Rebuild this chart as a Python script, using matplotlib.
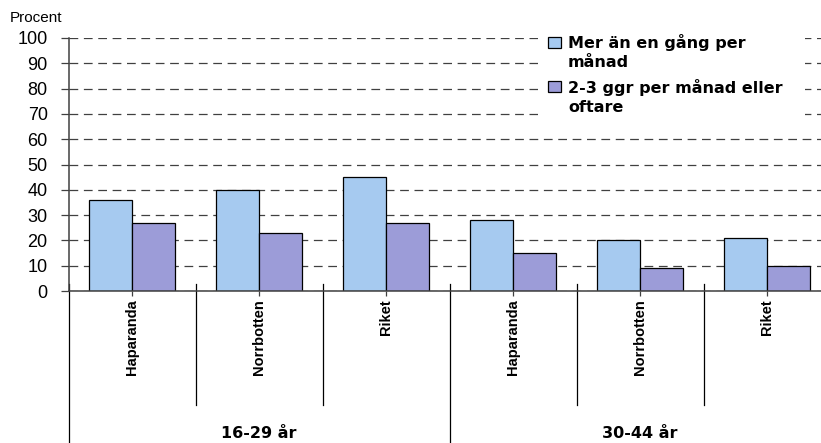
import matplotlib
matplotlib.use("Agg")
import matplotlib.pyplot as plt
from matplotlib.patches import Rectangle
from matplotlib import font_manager

# ---- data ----
categories = ["Haparanda", "Norrbotten", "Riket", "Haparanda", "Norrbotten", "Riket"]
groups = ["16-29 år", "30-44 år"]
series_names = ["Mer än en gång per\nmånad", "2-3 ggr per månad eller\noftare"]
series1 = [36, 40, 45, 28, 20, 21]
series2 = [27, 23, 27, 15, 9, 10]
yticks = [0, 10, 20, 30, 40, 50, 60, 70, 80, 90, 100]

W, H = 821, 443
def fx(x): return x / W
def fy(y): return 1 - y / H

installed = {f.name for f in font_manager.fontManager.ttflist}
if "Liberation Sans Narrow" in installed:
    cat_family, cat_size = "Liberation Sans Narrow", 12.5
else:
    cat_family, cat_size = "Liberation Sans", 10.5

fig = plt.figure(figsize=(W / 100, H / 100), dpi=100)
left_px, right_px, top_px, base_px = 68.5, 821, 38, 291
cat_px = 127.0
ax = fig.add_axes([fx(left_px), fy(base_px), (right_px - left_px) / W, (base_px - top_px) / H])

blue = "#A6CAF0"
purple = "#9C9CD8"
xs = list(range(len(categories)))
bw = 0.335
ax.bar([x - bw / 2 for x in xs], series1, width=bw, color=blue, edgecolor="black", linewidth=0.9, zorder=2)
ax.bar([x + bw / 2 for x in xs], series2, width=bw, color=purple, edgecolor="black", linewidth=0.9, zorder=2)

ax.set_xlim(-0.5, -0.5 + (right_px - left_px) / cat_px)
ax.set_ylim(0, 100)
ax.set_yticks(yticks)
ax.set_yticklabels([str(v) for v in yticks], fontsize=13, family="Liberation Sans")
ax.tick_params(axis="y", length=6, width=0.9, color="#404040", pad=9, direction="out")

ax.set_xticks(xs)
ax.set_xticklabels(categories, rotation=90, fontsize=cat_size, fontweight="bold", family=cat_family)
ax.tick_params(axis="x", length=3.6, width=0.9, color="#404040", pad=2.5, direction="out")

for s in ["top", "right"]:
    ax.spines[s].set_visible(False)
for s in ["left", "bottom"]:
    ax.spines[s].set_color("#404040")
    ax.spines[s].set_linewidth(1.1)

ax.yaxis.grid(True, color="#404040", linewidth=0.9, linestyle=(0, (7, 4.5)), zorder=0)
ax.set_axisbelow(True)

# separator lines below the axis
trans = ax.get_xaxis_transform()
y_top = (base_px - 284) / (base_px - top_px)
y_cat = -(405 - base_px) / (base_px - top_px)
y_grp = -(450 - base_px) / (base_px - top_px)
for b in [0.5, 1.5, 3.5, 4.5]:
    ax.plot([b, b], [y_top, y_cat], color="black", linewidth=0.9, transform=trans, clip_on=False)
for b in [-0.5, 2.5]:
    ax.plot([b, b], [y_top, y_grp], color="black", linewidth=0.9, transform=trans, clip_on=False)

y_glabel = -(433 - base_px) / (base_px - top_px)
for gi, g in enumerate(groups):
    ax.text(1.0 + 3 * gi, y_glabel, g, transform=trans, ha="center", va="center",
            fontsize=11.5, fontweight="bold", family="DejaVu Sans")

# "Procent" label
fig.text(fx(10), fy(18), "Procent", fontsize=11, family="Liberation Sans", va="center", ha="left")

# legend (manual, white background hides grid)
ax.add_patch(Rectangle((fx(538), fy(125)), (805 - 538) / W, (125 - 28) / H,
                       transform=fig.transFigure, facecolor="white", edgecolor="none",
                       zorder=3, clip_on=False))
for (sq_top, text_base, col, name) in [(37, 67, blue, series_names[0]), (81, 112, purple, series_names[1])]:
    ax.add_patch(Rectangle((fx(548), fy(sq_top + 11)), 13 / W, 11 / H,
                           transform=fig.transFigure, facecolor=col, edgecolor="black",
                           linewidth=0.9, zorder=4, clip_on=False))
    ax.text(fx(568), fy(text_base), name, transform=fig.transFigure, ha="left", va="baseline",
            fontsize=11.5, fontweight="bold", family="DejaVu Sans", linespacing=1.32, zorder=5)

fig.savefig("out.png", dpi=100)
